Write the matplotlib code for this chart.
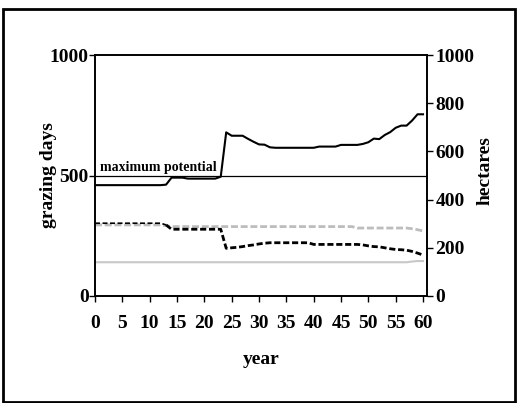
import numpy as np
import matplotlib.pyplot as plt
from matplotlib.patches import Rectangle

plt.rcParams['font.family'] = ['Liberation Serif', 'DejaVu Serif']
plt.rcParams['font.weight'] = 'bold'

# 数据 (按年份 0..60)
years = list(range(61))
grazing_days = ([460] * 13 + [462, 491, 491, 491] + [487] * 6 + [495, 679, 665, 665, 665, 652, 640, 629, 628, 617]
                + [615] * 8 + [620] * 4 + [627] * 4 + [631, 638, 653, 651, 668, 680, 698, 707, 707, 728, 754, 754])
grey_dashed = [295] * 13 + [292] + [288] * 34 + [282] * 10 + [279, 275, 270]
black_dashed = ([302] * 13 + [295] + [277] * 10 + [198, 200, 202, 205, 209, 212, 216, 219] + [221] * 8 + [214] * 9
                + [212, 208, 205, 204, 200, 196, 193, 192, 190, 185, 178, 170])
grey_solid = [140] * 58 + [143, 145, 145]
max_potential = 500

fig = plt.figure(figsize=(5.18, 4.03), dpi=100)
ax = fig.add_axes([95 / 518, 1 - 296 / 403, 332 / 518, 241 / 403])
ax2 = ax.twinx()

ax.axhline(max_potential, color='black', lw=0.9)
ax.text(1, max_potential + 8, 'maximum potential', fontsize=10, fontweight='bold', va='bottom', ha='left')
ax.plot(years, grey_solid, color='#c8c8c8', lw=1.5)
ax.plot(years, grey_dashed, color='#bdbdbd', lw=2, linestyle=(0, (2.5, 1)))
# 前段虚线较细
ax.plot(years[:14], black_dashed[:14], color='black', lw=1.2, linestyle=(0, (3, 1.5)))
ax.plot(years[13:], black_dashed[13:], color='black', lw=2, linestyle=(0, (2.2, 1)))
ax.plot(years, grazing_days, color='black', lw=1.5)

ax.set_xlim(0, 60.73)
ax.set_ylim(0, 1000)
ax2.set_ylim(0, 1000)
ax.set_xticks(range(0, 61, 5))
ax.set_yticks([0, 500, 1000])
ax2.set_yticks(range(0, 1001, 200))

for a in (ax, ax2):
    a.tick_params(direction='out', length=4.5, width=1, labelsize=14, pad=1.5)
    for s in a.spines.values():
        s.set_linewidth(1.2)
ax.tick_params(axis='x', pad=9)
ax.tick_params(axis='y', pad=0)

ax.set_xlabel('year', fontsize=14, fontweight='bold', labelpad=14)
ax.set_ylabel('grazing days', fontsize=14, fontweight='bold')
ax.yaxis.set_label_coords(-0.1145, 0.5)
ax2.set_ylabel('hectares', fontsize=14, fontweight='bold')
ax2.yaxis.set_label_coords(1.1506, 0.52)

# 外框
fig.patches.append(Rectangle((3 / 518, 1 / 403), 512 / 518, 393 / 403, transform=fig.transFigure,
                             fill=False, edgecolor='black', lw=2))

fig.savefig('out.png', dpi=100)
